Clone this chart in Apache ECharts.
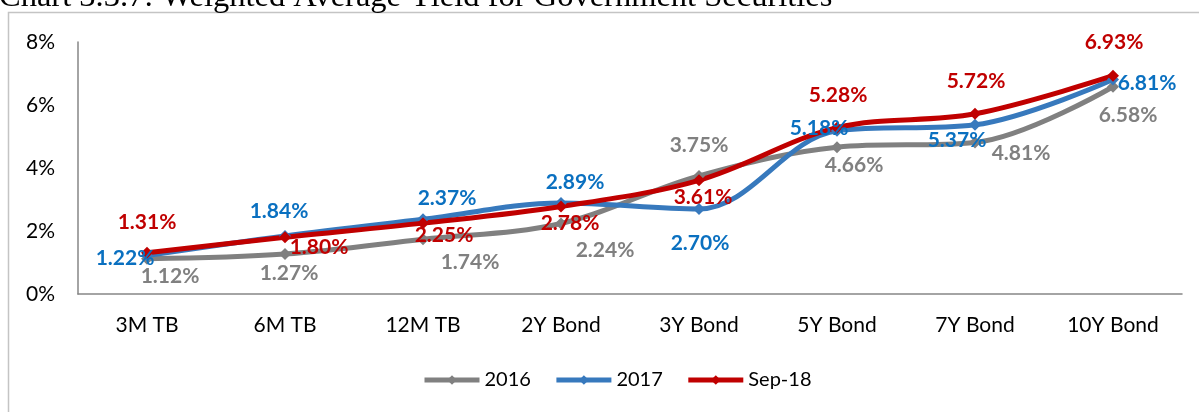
<!DOCTYPE html>
<html>
<head>
<meta charset="utf-8">
<script src="https://cdn.jsdelivr.net/npm/echarts@6/dist/echarts.min.js"></script>
<style>
  html, body { margin: 0; padding: 0; background: #fff; }
  #chart { width: 1199px; height: 412px; }
</style>
</head>
<body>
<div id="chart"></div>
<script>
// Tenors on the x axis
const categories = ['3M TB', '6M TB', '12M TB', '2Y Bond', '3Y Bond', '5Y Bond', '7Y Bond', '10Y Bond'];

// Weighted average yields (%)
const yield2016 = [1.12, 1.27, 1.74, 2.24, 3.75, 4.66, 4.81, 6.58];
const yield2017 = [1.22, 1.84, 2.37, 2.89, 2.70, 5.18, 5.37, 6.81];
const yieldSep18 = [1.31, 1.80, 2.25, 2.78, 3.61, 5.28, 5.72, 6.93];

const seriesNames = ['2016', '2017', 'Sep-18'];
const yTicks = [0, 2, 4, 6, 8];

// Label placement relative to each point (px), kept apart from the values
const offsets2016 = [[23, 18], [4, 19], [47, 23], [44, 27], [0, -31], [17, 18], [46, 11], [15, 29]];
const offsets2017 = [[-22, 3], [-6, -25], [24, -21], [14, -21], [1, 34], [-18, -3], [-18, 15], [34, 4]];
const offsetsSep18 = [[0, -31], [34, 10], [21, 12], [9, 17], [4, 17], [1, -32], [1, -33], [1, -33]];

const FONT = 'Lato, "Open Sans", sans-serif';

function makeSeries(name, values, offsets, lineColor, labelColor) {
  return {
    name: name,
    type: 'line',
    smooth: 0.35,
    symbol: 'diamond',
    symbolSize: 12,
    showAllSymbol: true,
    lineStyle: { width: 5, color: lineColor },
    itemStyle: { color: lineColor },
    data: values.map((v, i) => ({
      value: v,
      label: { offset: offsets[i] }
    })),
    label: {
      show: true,
      position: 'inside',
      formatter: p => p.value.toFixed(2) + '%',
      color: labelColor,
      fontFamily: FONT,
      fontWeight: 'bold',
      fontSize: 21
    },
    emphasis: { disabled: true },
    z: 2
  };
}

const chart = echarts.init(document.getElementById('chart'), null, { renderer: 'canvas' });

chart.setOption({
  animation: false,
  backgroundColor: '#ffffff',
  graphic: [
    {
      type: 'rect',
      shape: { x: 8.5, y: 12.5, width: 1200, height: 420 },
      style: { fill: 'none', stroke: '#c4c4c4', lineWidth: 1.5 },
      silent: true
    },
    {
      type: 'text',
      left: -1,
      top: -19,
      style: {
        text: 'Chart 3.3.7: Weighted Average Yield for Government Securities',
        font: '32.5px "Liberation Serif", "Times New Roman", serif',
        fill: '#000'
      },
      silent: true
    }
  ],
  grid: { left: 78, right: 17, top: 42, bottom: 118 },
  legend: {
    data: seriesNames,
    left: 422,
    top: 370,
    padding: 0,
    itemWidth: 55,
    itemHeight: 12,
    itemGap: 23,
    lineStyle: { width: 5 },
    textStyle: { fontFamily: FONT, fontSize: 20, color: '#000' },
    selectedMode: false
  },
  xAxis: {
    type: 'category',
    data: categories,
    boundaryGap: true,
    axisLine: { lineStyle: { color: '#868686', width: 1.5 } },
    axisTick: { show: false },
    axisLabel: { fontFamily: FONT, fontSize: 21, color: '#000', margin: 21 }
  },
  yAxis: {
    type: 'value',
    min: yTicks[0],
    max: yTicks[yTicks.length - 1],
    interval: 2,
    axisLine: { show: true, lineStyle: { color: '#868686', width: 1.5 } },
    axisTick: { show: false },
    splitLine: { show: false },
    axisLabel: {
      fontFamily: FONT, fontSize: 21, color: '#000', margin: 23,
      formatter: v => v + '%'
    }
  },
  series: [
    makeSeries(seriesNames[0], yield2016, offsets2016, '#808080', '#808080'),
    makeSeries(seriesNames[1], yield2017, offsets2017, '#3779bd', '#0a70c0'),
    makeSeries(seriesNames[2], yieldSep18, offsetsSep18, '#c00000', '#c00000')
  ]
});
</script>
</body>
</html>
